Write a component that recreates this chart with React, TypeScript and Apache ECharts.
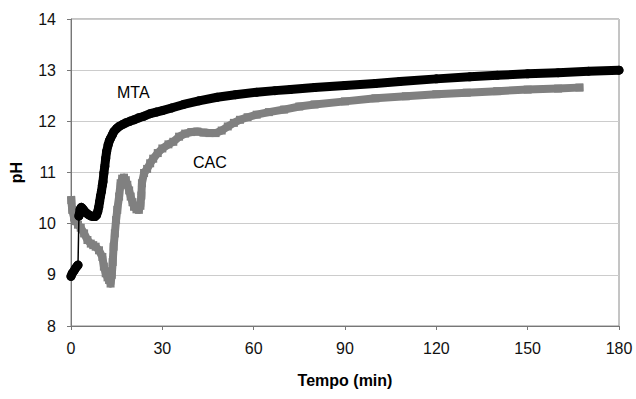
import React, { useEffect, useRef } from "react";
import * as echarts from "echarts";

// MTA (black circles): time in minutes, pH
const mtaTime = [
  0, 0.4, 1.0, 1.5, 2.0, 2.3,
  2.6, 3.0, 3.4, 4.0, 4.5, 5.2, 5.9, 6.6, 7.3, 7.9, 8.4, 8.8, 9.1, 9.4, 9.7,
  10.0, 10.3, 10.5, 10.8, 11.1, 11.4, 11.7, 12.2, 12.6, 13.0, 13.6, 14.1,
  15.0, 15.8, 17.0, 18.0, 19.3, 20.7, 22.3, 24.0, 26.0, 28.0, 30, 33, 37,
  42, 48, 54, 61, 67, 72, 80, 90, 100, 108, 120, 131, 140, 150, 160, 170, 180,
];
const mtaPH = [
  8.97, 9.03, 9.08, 9.13, 9.17, 9.19,
  10.15, 10.28, 10.32, 10.28, 10.24, 10.2, 10.17, 10.15, 10.14, 10.14, 10.17,
  10.24, 10.32, 10.43, 10.54, 10.63, 10.75, 10.82, 10.99, 11.12, 11.28, 11.41,
  11.54, 11.62, 11.67, 11.74, 11.8, 11.86, 11.9, 11.94, 11.97, 12.0, 12.03,
  12.07, 12.1, 12.15, 12.18, 12.21, 12.26, 12.33, 12.4, 12.47, 12.52, 12.57,
  12.6, 12.62, 12.66, 12.7, 12.74, 12.78, 12.83, 12.87, 12.9, 12.93, 12.95,
  12.98, 13.0,
];
// index where the MTA trace jumps (drawn as a thin connector)
const mtaJumpIndex = 6;

// CAC (grey squares)
const cacTime = [
  0.1, 0.4, 1.0, 1.5, 2.3, 3.2, 4.3, 5.4, 6.5, 7.3, 8.1, 9.2, 10.3, 10.8, 11.4,
  12.0, 12.5, 13.0, 13.4, 13.7, 14.0, 14.4, 14.8, 15.2, 15.8, 16.3, 16.8, 17.4,
  18.0, 18.5, 19.1, 19.6, 20.2, 20.7, 21.5, 22.3, 22.8, 23.1, 23.3, 24.0, 25.0,
  26.0, 27.0, 28.5, 30.0, 32.0, 33.6, 35.5, 37.5, 39.5, 41.5, 43.5, 45.5, 47.5,
  49.5, 51.5, 53.5, 55.5, 58, 61, 65, 70, 75, 80, 90, 100, 110, 120, 130, 140,
  150, 160, 167,
];
const cacPH = [
  10.46, 10.27, 10.12, 10.05, 9.98, 9.92, 9.81, 9.68, 9.61, 9.58, 9.55, 9.48,
  9.35, 9.16, 9.03, 8.95, 8.9, 8.83, 9.0, 9.25, 9.55, 9.81, 10.07, 10.27, 10.53,
  10.79, 10.88, 10.9, 10.85, 10.76, 10.65, 10.53, 10.42, 10.33, 10.28, 10.27,
  10.35, 10.55, 10.79, 10.99, 11.07, 11.18, 11.27, 11.38, 11.47, 11.55, 11.6,
  11.7, 11.76, 11.79, 11.8, 11.78, 11.77, 11.77, 11.82, 11.9, 11.97, 12.03,
  12.08, 12.13, 12.18, 12.23, 12.29, 12.33, 12.39, 12.45, 12.49, 12.53, 12.56,
  12.59, 12.62, 12.64, 12.66,
];

const xTicks = [0, 30, 60, 90, 120, 150, 180];
const yTicks = [8, 9, 10, 11, 12, 13, 14];

const FONT = "'Liberation Sans', Arial, sans-serif";

export default function App() {
  const ref = useRef<HTMLDivElement>(null);

  useEffect(() => {
    document.body.style.margin = "0";
    if (!ref.current) return;
    const chart = echarts.init(ref.current, undefined, { renderer: "svg" });

    const mtaAll = mtaTime.map((t, i) => [t, mtaPH[i]]);
    const mtaBand: any[] = [];
    mtaAll.forEach((p, i) => {
      if (i === mtaJumpIndex) mtaBand.push([null, null]);
      mtaBand.push(p);
    });
    const cacAll = cacTime.map((t, i) => [t, cacPH[i]]);

    chart.setOption({
      animation: false,
      backgroundColor: "#ffffff",
      grid: {
        left: 71,
        right: 17,
        top: 19,
        bottom: 73,
        show: true,
        borderColor: "#8a8a8a",
        borderWidth: 1,
      },
      xAxis: {
        type: "value",
        min: xTicks[0],
        max: xTicks[xTicks.length - 1],
        interval: 30,
        name: "Tempo (min)",
        nameLocation: "middle",
        nameGap: 46,
        nameTextStyle: { fontFamily: FONT, fontSize: 16, fontWeight: "bold", color: "#000" },
        axisLine: { show: true, lineStyle: { color: "#777", width: 1 } },
        axisTick: { show: true, inside: false, length: 4, lineStyle: { color: "#777" } },
        axisLabel: { fontFamily: FONT, fontSize: 16, color: "#111", margin: 14 },
        splitLine: { show: false },
      },
      yAxis: {
        type: "value",
        min: yTicks[0],
        max: yTicks[yTicks.length - 1],
        interval: 1,
        name: "pH",
        nameLocation: "middle",
        nameGap: 47,
        nameRotate: 90,
        nameTextStyle: { fontFamily: FONT, fontSize: 16, fontWeight: "bold", color: "#000" },
        axisLine: { show: true, lineStyle: { color: "#777", width: 1 } },
        axisTick: { show: true, inside: false, length: 4, lineStyle: { color: "#777" } },
        axisLabel: { fontFamily: FONT, fontSize: 16, color: "#111", margin: 15 },
        splitLine: { show: true, lineStyle: { color: "#cccccc", width: 1 } },
      },
      series: [
        {
          name: "CAC band",
          type: "line",
          data: cacAll,
          symbol: "none",
          lineStyle: { color: "#808080", width: 8, join: "round", cap: "square" },
          z: 2,
          silent: true,
        },
        {
          name: "CAC",
          type: "line",
          data: cacAll,
          symbol: "rect",
          symbolSize: 8,
          itemStyle: { color: "#808080" },
          lineStyle: { color: "#808080", width: 1 },
          z: 3,
        },
        {
          name: "MTA band",
          type: "line",
          data: mtaBand,
          connectNulls: false,
          symbol: "none",
          lineStyle: { color: "#000000", width: 9, join: "round", cap: "round" },
          z: 4,
          silent: true,
        },
        {
          name: "MTA",
          type: "line",
          data: mtaAll,
          symbol: "circle",
          symbolSize: 9,
          itemStyle: { color: "#000000" },
          lineStyle: { color: "#000000", width: 1.5 },
          z: 5,
        },
      ],
      graphic: [
        {
          type: "text",
          left: 117,
          top: 84,
          style: { text: "MTA", font: `16px ${FONT}`, fill: "#000" },
        },
        {
          type: "text",
          left: 193,
          top: 154,
          style: { text: "CAC", font: `16px ${FONT}`, fill: "#000" },
        },
      ],
    });

    return () => chart.dispose();
  }, []);

  return <div ref={ref} style={{ width: 636, height: 399 }} />;
}
